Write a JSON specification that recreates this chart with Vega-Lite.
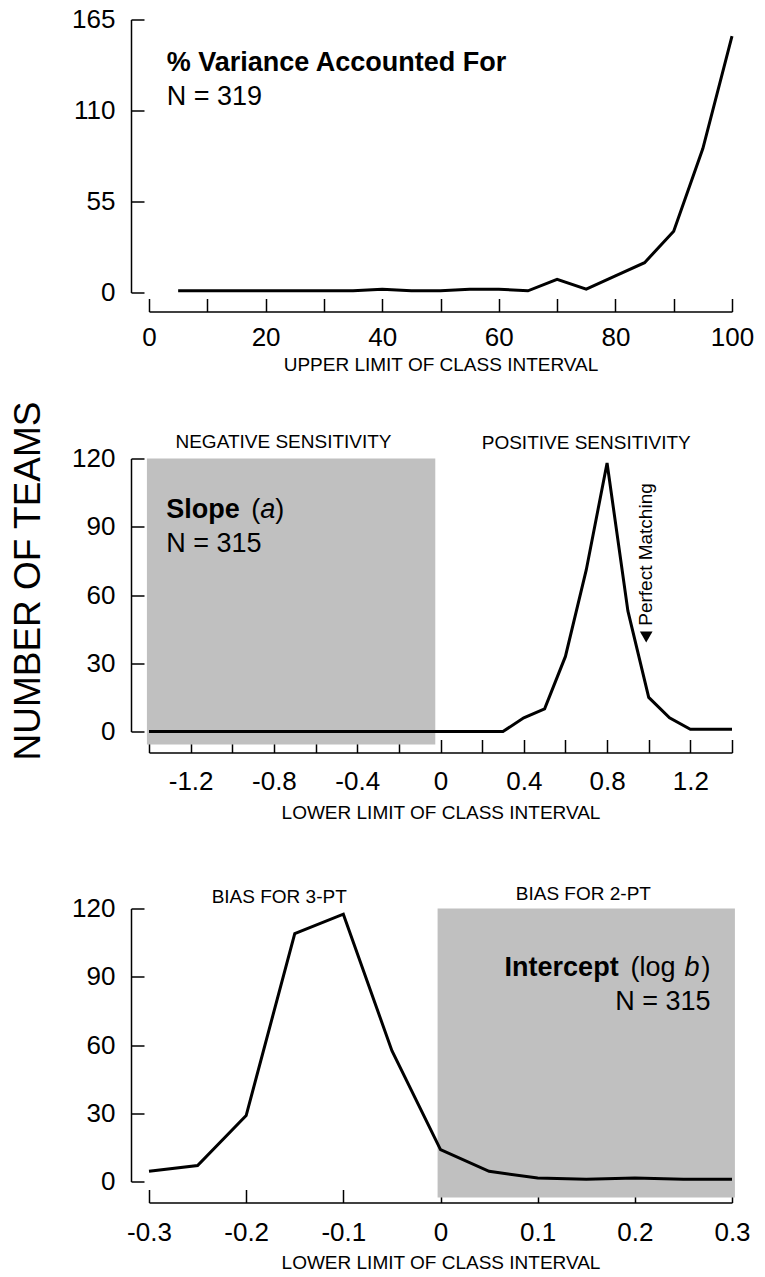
{
  "$schema": "https://vega.github.io/schema/vega-lite/v6.json",
  "padding": {"left": 9, "top": 6.5, "right": 5, "bottom": 5},
  "background": "white",
  "bounds": "flush",
  "spacing": 166,
  "config": {
    "view": {"stroke": null},
    "font": "Liberation Sans",
    "axis": {
      "grid": false, "domainColor": "black", "domainWidth": 1.5, "tickColor": "black", "tickWidth": 1.5,
      "tickSize": -13, "labelColor": "black", "labelFont": "Liberation Sans", "labelFontSize": 26,
      "titleFont": "Liberation Sans", "titleFontSize": 19, "titleFontWeight": "normal", "titleColor": "black",
      "labelFlush": false, "labelOverlap": false, "zindex": 1
    },
    "axisY": {"labelPadding": 29},
    "text": {"font": "Liberation Sans", "color": "black"}
  },
  "datasets": {
    "variance": [
      {"x": 5, "y": 1}, {"x": 10, "y": 1}, {"x": 15, "y": 1}, {"x": 20, "y": 1}, {"x": 25, "y": 1},
      {"x": 30, "y": 1}, {"x": 35, "y": 1}, {"x": 40, "y": 2}, {"x": 45, "y": 1}, {"x": 50, "y": 1},
      {"x": 55, "y": 2}, {"x": 60, "y": 2}, {"x": 65, "y": 1}, {"x": 70, "y": 8}, {"x": 75, "y": 2},
      {"x": 80, "y": 10}, {"x": 85, "y": 18}, {"x": 90, "y": 37}, {"x": 95, "y": 87}, {"x": 100, "y": 155}
    ],
    "slope": [
      {"x": -1.4, "y": 0}, {"x": -1.3, "y": 0}, {"x": -1.2, "y": 0}, {"x": -1.1, "y": 0}, {"x": -1.0, "y": 0},
      {"x": -0.9, "y": 0}, {"x": -0.8, "y": 0}, {"x": -0.7, "y": 0}, {"x": -0.6, "y": 0}, {"x": -0.5, "y": 0},
      {"x": -0.4, "y": 0}, {"x": -0.3, "y": 0}, {"x": -0.2, "y": 0}, {"x": -0.1, "y": 0}, {"x": 0.0, "y": 0},
      {"x": 0.1, "y": 0}, {"x": 0.2, "y": 0}, {"x": 0.3, "y": 0}, {"x": 0.4, "y": 6}, {"x": 0.5, "y": 10},
      {"x": 0.6, "y": 33}, {"x": 0.7, "y": 71}, {"x": 0.8, "y": 118}, {"x": 0.9, "y": 53}, {"x": 1.0, "y": 15},
      {"x": 1.1, "y": 6}, {"x": 1.2, "y": 1}, {"x": 1.3, "y": 1}, {"x": 1.4, "y": 1}
    ],
    "intercept": [
      {"x": -0.3, "y": 4.5}, {"x": -0.25, "y": 7}, {"x": -0.2, "y": 29}, {"x": -0.15, "y": 109},
      {"x": -0.1, "y": 117.5}, {"x": -0.05, "y": 57.5}, {"x": 0.0, "y": 14}, {"x": 0.05, "y": 4.5},
      {"x": 0.1, "y": 1.5}, {"x": 0.15, "y": 1}, {"x": 0.2, "y": 1.5}, {"x": 0.25, "y": 1}, {"x": 0.3, "y": 1}
    ],
    "shadeSlope": [{"x": -1.41, "x2": -0.025, "y": -5.7, "y2": 120}],
    "shadeIntercept": [{"x": -0.003, "x2": 0.303, "y": -7, "y2": 120}],
    "topBold": [{"x": 3.04, "y": 133.7, "t": "% Variance Accounted For"}],
    "topN": [{"x": 3.04, "y": 113.6, "t": "N = 319"}],
    "midCaps": [
      {"x": -0.754, "y": 127.2, "t": "NEGATIVE SENSITIVITY"},
      {"x": 0.7, "y": 126.6, "t": "POSITIVE SENSITIVITY"}
    ],
    "midBold": [{"x": -1.317, "y": 94, "t": "Slope"}],
    "midParen": [{"x": -1.317, "y": 94, "t": "("}],
    "midA": [{"x": -1.317, "y": 94, "t": "a"}],
    "midClose": [{"x": -1.317, "y": 94, "t": ")"}],
    "midN": [{"x": -1.317, "y": 78.9, "t": "N = 315"}],
    "pmText": [{"x": 1.018, "y": 77.8, "t": "Perfect Matching"}],
    "pmArrow": [{"x": 0.988, "y": 41.5}],
    "botCaps": [
      {"x": -0.166, "y": 125, "t": "BIAS FOR 3-PT"},
      {"x": 0.147, "y": 126.3, "t": "BIAS FOR 2-PT"}
    ],
    "botBold": [{"x": 0.278, "y": 90.4, "t": "Intercept"}],
    "botLog": [{"x": 0.278, "y": 90.4, "t": "(log"}],
    "botB": [{"x": 0.278, "y": 90.4, "t": "b"}],
    "botClose": [{"x": 0.278, "y": 90.4, "t": ")"}],
    "botN": [{"x": 0.278, "y": 75.4, "t": "N = 315"}]
  },
  "vconcat": [
    {
      "width": 583,
      "height": 273,
      "encoding": {
        "x": {
          "field": "x", "type": "quantitative",
          "scale": {"domain": [0, 100], "nice": false, "zero": false},
          "axis": {
            "values": [0, 10, 20, 30, 40, 50, 60, 70, 80, 90, 100],
            "labelExpr": "datum.value % 20 === 0 ? datum.label : ''",
            "offset": 19, "labelPadding": 26, "titlePadding": 5,
            "title": "UPPER LIMIT OF CLASS INTERVAL"
          }
        },
        "y": {
          "field": "y", "type": "quantitative",
          "scale": {"domain": [0, 165], "nice": false},
          "axis": {"values": [0, 55, 110, 165], "offset": 18, "title": null}
        }
      },
      "layer": [
        {"data": {"name": "variance"}, "mark": {"type": "line", "color": "black", "strokeWidth": 3}},
        {"data": {"name": "topBold"}, "mark": {"type": "text", "align": "left", "baseline": "alphabetic", "fontSize": 27, "fontWeight": "bold"}, "encoding": {"text": {"field": "t"}}},
        {"data": {"name": "topN"}, "mark": {"type": "text", "align": "left", "baseline": "alphabetic", "fontSize": 27}, "encoding": {"text": {"field": "t"}}}
      ]
    },
    {
      "width": 583,
      "height": 283.6,
      "encoding": {
        "x": {
          "field": "x", "type": "quantitative",
          "scale": {"domain": [-1.4, 1.4], "nice": false, "zero": false},
          "axis": {
            "values": [-1.4, -1.2, -1.0, -0.8, -0.6, -0.4, -0.2, 0, 0.2, 0.4, 0.6, 0.8, 1.0, 1.2, 1.4],
            "labelExpr": "round(datum.value*10) % 4 === 0 ? (datum.value < -0.001 ? '-' : '') + format(abs(datum.value), '~g') : ''",
            "offset": 10.4, "labelPadding": 29, "titlePadding": 9,
            "title": "LOWER LIMIT OF CLASS INTERVAL"
          }
        },
        "y": {
          "field": "y", "type": "quantitative",
          "scale": {"domain": [0, 120], "nice": false, "range": [273, 0]},
          "axis": {
            "values": [0, 30, 60, 90, 120], "offset": 18,
            "title": "NUMBER OF TEAMS", "titleFontSize": 37, "titlePadding": 24, "titleY": 122
          }
        }
      },
      "layer": [
        {"data": {"name": "shadeSlope"}, "mark": {"type": "rect", "color": "#c0c0c0"}, "encoding": {"x2": {"field": "x2"}, "y2": {"field": "y2"}}},
        {"data": {"name": "slope"}, "mark": {"type": "line", "color": "black", "strokeWidth": 3}},
        {"data": {"name": "midCaps"}, "mark": {"type": "text", "align": "center", "baseline": "middle", "fontSize": 19}, "encoding": {"text": {"field": "t"}}},
        {"data": {"name": "midBold"}, "mark": {"type": "text", "align": "left", "baseline": "alphabetic", "fontSize": 27, "fontWeight": "bold"}, "encoding": {"text": {"field": "t"}}},
        {"data": {"name": "midParen"}, "mark": {"type": "text", "align": "left", "baseline": "alphabetic", "fontSize": 27, "dx": 85}, "encoding": {"text": {"field": "t"}}},
        {"data": {"name": "midA"}, "mark": {"type": "text", "align": "left", "baseline": "alphabetic", "fontSize": 27, "fontStyle": "italic", "dx": 94}, "encoding": {"text": {"field": "t"}}},
        {"data": {"name": "midClose"}, "mark": {"type": "text", "align": "left", "baseline": "alphabetic", "fontSize": 27, "dx": 109}, "encoding": {"text": {"field": "t"}}},
        {"data": {"name": "midN"}, "mark": {"type": "text", "align": "left", "baseline": "alphabetic", "fontSize": 27}, "encoding": {"text": {"field": "t"}}},
        {"data": {"name": "pmText"}, "mark": {"type": "text", "align": "center", "baseline": "alphabetic", "fontSize": 19, "angle": 270}, "encoding": {"text": {"field": "t"}}},
        {"data": {"name": "pmArrow"}, "mark": {"type": "point", "shape": "triangle-down", "filled": true, "color": "black", "opacity": 1, "size": 160}}
      ]
    },
    {
      "width": 583,
      "height": 273,
      "encoding": {
        "x": {
          "field": "x", "type": "quantitative",
          "scale": {"domain": [-0.3, 0.3], "nice": false, "zero": false},
          "axis": {
            "values": [-0.3, -0.2, -0.1, 0, 0.1, 0.2, 0.3],
            "labelExpr": "(datum.value < -0.001 ? '-' : '') + format(abs(datum.value), '~g')",
            "offset": 21, "labelPadding": 30, "titlePadding": 8,
            "title": "LOWER LIMIT OF CLASS INTERVAL"
          }
        },
        "y": {
          "field": "y", "type": "quantitative",
          "scale": {"domain": [0, 120], "nice": false},
          "axis": {"values": [0, 30, 60, 90, 120], "offset": 18, "title": null}
        }
      },
      "layer": [
        {"data": {"name": "shadeIntercept"}, "mark": {"type": "rect", "color": "#c0c0c0"}, "encoding": {"x2": {"field": "x2"}, "y2": {"field": "y2"}}},
        {"data": {"name": "intercept"}, "mark": {"type": "line", "color": "black", "strokeWidth": 3}},
        {"data": {"name": "botCaps"}, "mark": {"type": "text", "align": "center", "baseline": "middle", "fontSize": 19}, "encoding": {"text": {"field": "t"}}},
        {"data": {"name": "botBold"}, "mark": {"type": "text", "align": "right", "baseline": "alphabetic", "fontSize": 27, "fontWeight": "bold", "dx": -92}, "encoding": {"text": {"field": "t"}}},
        {"data": {"name": "botLog"}, "mark": {"type": "text", "align": "right", "baseline": "alphabetic", "fontSize": 27, "dx": -35}, "encoding": {"text": {"field": "t"}}},
        {"data": {"name": "botB"}, "mark": {"type": "text", "align": "right", "baseline": "alphabetic", "fontSize": 27, "fontStyle": "italic", "dx": -11}, "encoding": {"text": {"field": "t"}}},
        {"data": {"name": "botClose"}, "mark": {"type": "text", "align": "right", "baseline": "alphabetic", "fontSize": 27}, "encoding": {"text": {"field": "t"}}},
        {"data": {"name": "botN"}, "mark": {"type": "text", "align": "right", "baseline": "alphabetic", "fontSize": 27}, "encoding": {"text": {"field": "t"}}}
      ]
    }
  ]
}
